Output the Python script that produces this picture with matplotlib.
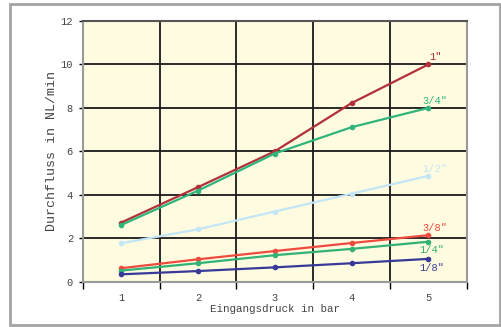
import matplotlib
matplotlib.use("Agg")
import matplotlib.pyplot as plt
from matplotlib.patches import Rectangle

# Eingangsdruck in bar
pressure = [1, 2, 3, 4, 5]

# Durchfluss per Anschluss
flow_1 = [2.72, 4.35, 6.0, 8.22, 10.0]
flow_34 = [2.61, 4.19, 5.9, 7.11, 8.0]
flow_12 = [1.77, 2.41, 3.23, 4.05, 4.87]
flow_38 = [0.62, 1.03, 1.41, 1.78, 2.14]
flow_14 = [0.51, 0.85, 1.22, 1.51, 1.84]
flow_18 = [0.34, 0.49, 0.66, 0.85, 1.05]

names = ['1"', '3/4"', '1/2"', '3/8"', '1/4"', '1/8"']
colors = ["#b1303a", "#2fb57c", "#c3e6f6", "#ee4a3e", "#32b274", "#373a98"]
label_pos = [(5.09, 10.35), (5.09, 8.33), (5.09, 5.2), (5.09, 2.47), (5.05, 1.46), (5.05, 0.63)]

mono = "Liberation Mono"

fig = plt.figure(figsize=(5.01, 3.27), dpi=100)
fig.patches.append(Rectangle((10 / 501, 2 / 327), 490 / 501, 321 / 327,
                             transform=fig.transFigure, fill=False,
                             edgecolor="#a3a3a3", linewidth=2))

ax = fig.add_axes([82.7 / 501, 45.3 / 327, 384 / 501, 260.7 / 327])
ax.set_facecolor("#fffbe0")

series = [flow_1, flow_34, flow_12, flow_38, flow_14, flow_18]
for vals, c, name, (lx, ly) in zip(series, colors, names, label_pos):
    ax.plot(pressure, vals, color=c, linewidth=1.6, marker="o", markersize=3, zorder=3)
    ax.text(lx, ly, name, color=c, fontsize=7.5, family=mono, ha="center", va="center")

ax.set_xlim(0.5, 5.5)
ax.set_ylim(0, 12)
ax.set_xticks(pressure)
ax.set_xticks([0.5, 1.5, 2.5, 3.5, 4.5, 5.5], minor=True)
ax.set_yticks(range(0, 13, 2))
ax.tick_params(axis="x", which="major", length=0, pad=8, labelsize=7.5, labelcolor="#444444")
ax.tick_params(axis="x", which="minor", length=5, width=1, color="black")
ax.tick_params(axis="y", length=3, width=1, labelsize=7.5, labelcolor="#444444", pad=4)
for lab in ax.get_xticklabels() + ax.get_yticklabels():
    lab.set_family(mono)

ax.grid(True, axis="y", color="#1a1a1a", linewidth=1.3)
ax.grid(True, axis="x", which="minor", color="#1a1a1a", linewidth=1.3)
ax.set_axisbelow(True)

for side in ["left", "bottom", "right", "top"]:
    ax.spines[side].set_color("#9a9a9a")
    ax.spines[side].set_linewidth(1.5)
ax.spines["top"].set_color("#555555")

ax.set_xlabel("Eingangsdruck in bar", family=mono, fontsize=7.8, color="#444444", labelpad=1)
ax.set_ylabel("Durchfluss in NL/min", family=mono, fontsize=9.5, color="#444444", labelpad=2)

fig.savefig("out.png", dpi=100)
